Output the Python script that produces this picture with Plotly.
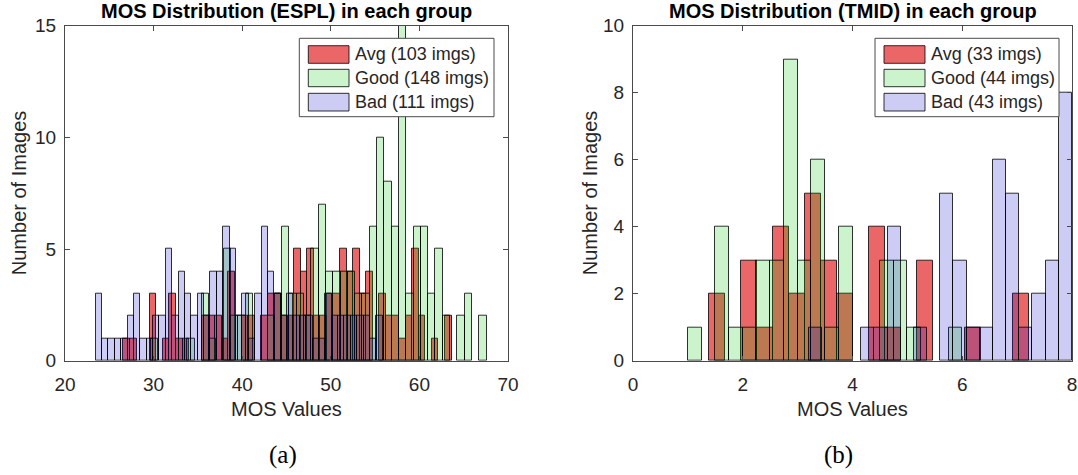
import plotly.graph_objects as go

W, H = 1078, 475

# ---------------- DATA ----------------
# ESPL (left panel): bin start, bin width, counts per bin
espl_avg_start, espl_avg_width = 26.60, 0.7405
espl_avg_counts = [1, 1, 0, 0, 3, 0, 1, 3, 1, 1,
                   0, 0, 2, 2, 2, 1, 4, 0, 2, 2,
                   0, 2, 3, 3, 2, 2, 5, 4, 5, 2,
                   2, 3, 3, 5, 4, 5, 3, 4, 0, 3,
                   2, 2, 1, 2, 5, 2, 0, 1, 0, 2]
espl_good_start, espl_good_width = 29.68, 0.824
espl_good_counts = [1, 0, 0, 0, 0, 1, 0, 3, 1, 0,
                    5, 2, 2, 3, 0, 0, 2, 3, 6, 3,
                    3, 2, 5, 7, 4, 4, 4, 4, 3, 3,
                    6, 10, 8, 6, 15, 3, 6, 6, 3, 5,
                    2, 0, 2, 3, 0, 2]
espl_bad_start, espl_bad_width = 23.46, 0.72
espl_bad_counts = [3, 1, 1, 1, 1, 2, 3, 1, 1, 2,
                   2, 5, 2, 4, 3, 2, 3, 2, 4, 4,
                   6, 5, 2, 3, 1, 3, 6, 4, 3, 2,
                   3, 2, 2, 2, 1, 1, 3, 2, 2, 2,
                   2, 2, 2, 1, 2]

# TMID (right panel)
tmid_avg_start, tmid_avg_width = 1.39, 0.2914
tmid_avg_counts = [2, 0, 3, 1, 4, 2, 5, 3, 2, 0, 4, 1, 0, 3, 0, 0, 1, 0, 0, 2]
tmid_good_start, tmid_good_width = 1.00, 0.25
tmid_good_counts = [1, 0, 4, 1, 1, 3, 3, 9, 3, 6, 1, 4, 0, 0, 3, 3, 1, 0, 0, 1]
tmid_bad_start, tmid_bad_width = 3.20, 0.24
tmid_bad_counts = [1, 0, 0, 0, 1, 1, 4, 0, 1, 0, 5, 3, 1, 1, 6, 5, 1, 2, 3, 8]

espl_labels = ["Avg (103 imgs)", "Good (148 imgs)", "Bad (111 imgs)"]
tmid_labels = ["Avg (33 imgs)", "Good (44 imgs)", "Bad (43 imgs)"]

titles = ["MOS Distribution (ESPL) in each group", "MOS Distribution (TMID) in each group"]
x_title = "MOS Values"
y_title = "Number of Images"
captions = ["(a)", "(b)"]

espl_xticks = [20, 30, 40, 50, 60, 70]
espl_yticks = [0, 5, 10, 15]
tmid_xticks = [0, 2, 4, 6, 8]
tmid_yticks = [0, 2, 4, 6, 8, 10]

# ---------------- STYLE ----------------
fills = ["rgba(225,20,20,0.65)", "rgba(0,200,0,0.2)", "rgba(0,0,200,0.2)"]
edge = "rgba(0,0,0,0.8)"
txt = "#262626"
sans = "Liberation Sans, Arial, sans-serif"


def bars(start, width, counts, fill, name, xa, ya):
    xs, ys = [], []
    for k, c in enumerate(counts):
        if c > 0:
            xs.append(start + width * (k + 0.5))
            ys.append(c)
    return go.Bar(x=xs, y=ys, width=width, name=name, xaxis=xa, yaxis=ya,
                  marker=dict(color=fill, line=dict(color=edge, width=1)),
                  showlegend=False, hoverinfo="x+y")


fig = go.Figure()
left = [(espl_avg_start, espl_avg_width, espl_avg_counts),
        (espl_good_start, espl_good_width, espl_good_counts),
        (espl_bad_start, espl_bad_width, espl_bad_counts)]
right = [(tmid_avg_start, tmid_avg_width, tmid_avg_counts),
         (tmid_good_start, tmid_good_width, tmid_good_counts),
         (tmid_bad_start, tmid_bad_width, tmid_bad_counts)]
for i, (s, w, c) in enumerate(left):
    fig.add_trace(bars(s, w, c, fills[i], espl_labels[i], "x", "y"))
for i, (s, w, c) in enumerate(right):
    fig.add_trace(bars(s, w, c, fills[i], tmid_labels[i], "x2", "y2"))

def px(x):
    return x / W

def py(y):
    return 1 - y / H

ax_common = dict(showline=True, linecolor="#4a4a4a", linewidth=1, mirror="ticks",
                 ticks="inside", ticklen=5, tickcolor="#4a4a4a", showgrid=False,
                 zeroline=False, automargin=False, ticklabeloverflow="allow",
                 tickfont=dict(family=sans, size=19, color=txt))

L0, L1 = 65, 508
R0, R1 = 633, 1072
T, B = 25.7, 360.7

fig.update_layout(
    width=W, height=H, margin=dict(l=0, r=0, t=0, b=0, pad=0),
    paper_bgcolor="white", plot_bgcolor="white", barmode="overlay", bargap=0,
    showlegend=False,
    xaxis=dict(domain=[px(L0), px(L1)], range=[20, 70], tickvals=espl_xticks,
               anchor="y", ticklabelstandoff=6, **ax_common),
    yaxis=dict(domain=[py(B), py(T)], range=[0, 15], tickvals=espl_yticks,
               anchor="x", ticklabelstandoff=4, **ax_common),
    xaxis2=dict(domain=[px(R0), px(R1)], range=[0, 8], tickvals=tmid_xticks,
                anchor="y2", ticklabelstandoff=6, **ax_common),
    yaxis2=dict(domain=[py(B), py(T)], range=[0, 10], tickvals=tmid_yticks,
                anchor="x2", ticklabelstandoff=4, **ax_common),
)

ann = []
shapes = []
centers = [(L0 + L1) / 2, (R0 + R1) / 2]
ytitle_x = [19, 590]
cap_x = [283, 838]
for i in range(2):
    ann.append(dict(x=px(centers[i]), y=py(11), xref="paper", yref="paper",
                    text="<b>" + titles[i] + "</b>", showarrow=False,
                    xanchor="center", yanchor="middle",
                    font=dict(family=sans, size=20, color="black")))
    ann.append(dict(x=px(centers[i]), y=py(409), xref="paper", yref="paper",
                    text=x_title, showarrow=False, xanchor="center", yanchor="middle",
                    font=dict(family=sans, size=20, color=txt)))
    ann.append(dict(x=px(ytitle_x[i]), y=py((T + B) / 2), xref="paper", yref="paper",
                    text=y_title, showarrow=False, textangle=-90,
                    xanchor="center", yanchor="middle",
                    font=dict(family=sans, size=20, color=txt)))
    ann.append(dict(x=px(cap_x[i]), y=py(455), xref="paper", yref="paper",
                    text=captions[i], showarrow=False, xanchor="center", yanchor="middle",
                    font=dict(family="Liberation Serif, DejaVu Serif, serif", size=25,
                              color="black")))

# custom MATLAB-style legends
legends = [(299.3, 494, 308.3, 349, 353, espl_labels),
           (875, 1059, 884, 925, 929, tmid_labels)]
rows = [(45.7, 63.3), (69.3, 86.7), (93.3, 111)]
for bx0, bx1, sx0, sx1, tx, labels in legends:
    shapes.append(dict(type="rect", xref="paper", yref="paper",
                       x0=px(bx0), x1=px(bx1), y0=py(116.7), y1=py(38.3),
                       fillcolor="white", line=dict(color="#4a4a4a", width=1)))
    for j, (r0, r1) in enumerate(rows):
        shapes.append(dict(type="rect", xref="paper", yref="paper",
                           x0=px(sx0), x1=px(sx1), y0=py(r1), y1=py(r0),
                           fillcolor=fills[j], line=dict(color=edge, width=1)))
        ann.append(dict(x=px(tx), y=py((r0 + r1) / 2), xref="paper", yref="paper",
                        text=labels[j], showarrow=False, xanchor="left",
                        yanchor="middle",
                        font=dict(family=sans, size=18, color=txt)))

fig.update_layout(annotations=ann, shapes=shapes)
fig.write_html("out.html")
